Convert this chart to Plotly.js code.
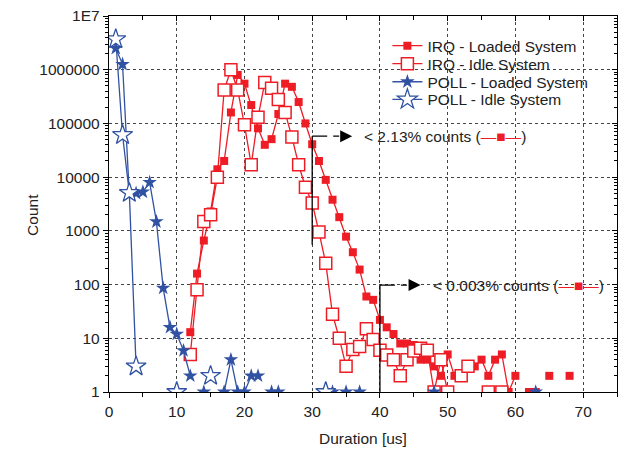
<!DOCTYPE html>
<html>
<head>
<meta charset="utf-8">
<script src="https://cdn.plot.ly/plotly-3.0.1.min.js"></script>
<style>html,body{margin:0;padding:0;background:#fff;}#chart{width:623px;height:451px;}</style>
</head>
<body>
<div id="chart"></div>
<script>
// ---- data (null = empty bin, line breaks) ----
const irqLoadedX = [12,13,14,15,16,17,18,19,20,21,22,23,24,25,26,27,28,29,30,31,32,33,34,35,36,37,38,39,40,41,42,43,44,45,46,47,48,49,50,51,52,53,54,55,56,57,58,59,60,61,62,63,64,65,66,67,68];
const irqLoadedY = [13,160,660,2300,14000,20000,160000,800000,550000,220000,81000,40000,51000,150000,550000,480000,250000,100000,41000,20000,8900,3800,1800,780,400,190,60,52,22,16,12,8,8,7.5,4,4,3,2,5,2,null,null,3,4,2,4,5,1,2,null,1,1,null,2,null,null,2];

const irqIdleX = [12,13,14,15,16,17,18,19,20,21,22,23,24,25,26,27,28,29,30,31,32,33,34,35,36,37,38,39,40,41,42,43,44,45,46,47,48,49,50,51,52,53,54,55,56,57,58];
const irqIdleY = [5,80,1500,2000,10000,420000,1000000,420000,94000,17000,130000,580000,450000,280000,160000,56000,17000,6500,3300,950,250,28,10,3,6.2,7,15,9.5,6,4.9,4,2,4,5.8,6.5,6,1,4,1,null,2,3,null,null,1,null,1];

const pollLoadedX = [1,2,3,4,5,6,7,8,9,10,11,12,13,14,15,16,17,18,19,20,21,22,23,24,25,26,32,33,34,35,36,37,38,47,48,49,62,63,64];
const pollLoadedY = [2500000,1260000,4800,5000,5300,8000,1480,86,16,12,5.9,2,null,1,null,null,1,4,1,1,2,2,null,1,1,null,null,1,null,1,null,1,null,null,1,null,null,1,null];

const pollIdleX = [1,2,3,4,5,9,10,11,14,15,16,31,32,33];
const pollIdleY = [3700000,61000,5100,3,null,null,1,null,null,2,null,null,1,null];

const xTickVals = [0,10,20,30,40,50,60,70];
const yTickVals = [1,10,100,1000,10000,100000,1000000,10000000];
const yTickText = ['1','10','100','1000','10000','100000','1000000','1E7'];

const seriesNames = ['IRQ - Loaded System','IRQ - Idle System','POLL - Loaded System','POLL - Idle System'];

// reference markers (cut-off annotations)
const cut1X = 30, cut1Top = 58000, cut1Bottom = 550, cut1Text = '< 2.13% counts (';
const cut2X = 40, cut2Top = 98, cut2Bottom = 1, cut2Text = '< 0.003% counts (';

const RED = '#ee1c25', BLUE = '#3152a3';
const FONT = 'Liberation Sans, Arial, Helvetica, sans-serif';
const TXT = '#222';

const traces = [
  {x: irqLoadedX, y: irqLoadedY, name: seriesNames[0], mode: 'lines+markers', legend: 'legend',
   line: {color: RED, width: 1.3}, marker: {symbol: 'square', size: 8, color: RED, line: {width: 0}}},
  {x: irqIdleX, y: irqIdleY, name: seriesNames[1], mode: 'lines+markers', legend: 'legend2',
   line: {color: RED, width: 1.3}, marker: {symbol: 'square', size: 12, color: '#ffffff', line: {color: RED, width: 1.5}}},
  {x: pollLoadedX, y: pollLoadedY, name: seriesNames[2], mode: 'lines+markers', legend: 'legend3',
   line: {color: BLUE, width: 1.3}, marker: {symbol: 'star', size: 11, color: BLUE, line: {width: 0}}},
  {x: pollIdleX, y: pollIdleY, name: seriesNames[3], mode: 'lines+markers', legend: 'legend4',
   line: {color: BLUE, width: 1.3}, marker: {symbol: 'star', size: 15, color: '#ffffff', line: {color: BLUE, width: 1.3}}},
  // cut-off guide lines
  {x: [cut1X, cut1X], y: [cut1Bottom, cut1Top], mode: 'lines', line: {color: '#000', width: 1.3}, showlegend: false, hoverinfo: 'skip'},
  {x: [cut1X, 34.6], y: [cut1Top, cut1Top], mode: 'lines', line: {color: '#000', width: 1.3, dash: '15px,6px,6px,20px'}, showlegend: false, hoverinfo: 'skip'},
  {x: [cut2X, cut2X], y: [cut2Bottom, cut2Top], mode: 'lines', line: {color: '#000', width: 1.3}, showlegend: false, hoverinfo: 'skip'},
  {x: [cut2X, 44.6], y: [cut2Top, cut2Top], mode: 'lines', line: {color: '#000', width: 1.3, dash: '15px,6px,6px,20px'}, showlegend: false, hoverinfo: 'skip'},
  // dummy trace for mirrored (inside-tick) top/right axes
  {x: [null], y: [null], xaxis: 'x2', yaxis: 'y2', showlegend: false, hoverinfo: 'skip', mode: 'markers'}
];

const sym = "<span style='color:" + RED + "'>—■—</span>)";

function leg(yPaper) {
  return {x: 0.548, y: yPaper, xanchor: 'left', yanchor: 'middle', bgcolor: 'rgba(0,0,0,0)', borderwidth: 0,
          font: {family: FONT, size: 15.5, color: TXT}};
}

const layout = {
  width: 623, height: 451,
  margin: {l: 109, r: 6, t: 16, b: 59},
  paper_bgcolor: '#fff', plot_bgcolor: '#fff',
  font: {family: FONT, size: 15, color: TXT},
  showlegend: true,
  legend: leg(0.920),
  legend2: leg(0.872),
  legend3: leg(0.824),
  legend4: leg(0.777),
  shapes: [
    {type: 'rect', xref: 'paper', yref: 'paper', x0: 0.535, x1: 0.966, y0: 0.753, y1: 0.944,
     fillcolor: '#fff', line: {width: 0}, layer: 'between'}
  ],
  xaxis: {range: [0, 75], tickmode: 'array', tickvals: xTickVals, ticks: 'outside', ticklen: 5, tickwidth: 1,
          tickcolor: '#000', showline: true, linecolor: '#000', linewidth: 1.2, zeroline: false,
          showgrid: true, gridcolor: '#444', griddash: 'dot', gridwidth: 1,
          minor: {dtick: 5, tick0: 0, ticks: 'outside', ticklen: 4, tickcolor: '#000', showgrid: false},
          title: {text: 'Duration [us]', font: {size: 15.5}, standoff: 14},
          tickfont: {size: 15.5}},
  yaxis: {type: 'log', range: [0, 7], tickmode: 'array', tickvals: yTickVals, ticktext: yTickText,
          ticks: 'outside', ticklen: 5, tickcolor: '#000', showline: true, linecolor: '#000', linewidth: 1.2,
          zeroline: false, showgrid: true, gridcolor: '#444', griddash: 'dot', gridwidth: 1,
          minor: {dtick: 'D1', ticks: 'outside', ticklen: 3, tickcolor: '#000', showgrid: false},
          tickfont: {size: 15.5}},
  xaxis2: {overlaying: 'x', side: 'top', anchor: 'y', range: [0, 75], tickmode: 'array', tickvals: xTickVals,
           ticks: 'inside', ticklen: 5, tickcolor: '#000', showticklabels: false, showline: true, linecolor: '#000',
           linewidth: 1.2, showgrid: false, zeroline: false,
           minor: {dtick: 5, tick0: 0, ticks: 'inside', ticklen: 4, tickcolor: '#000', showgrid: false}},
  yaxis2: {overlaying: 'y', side: 'right', anchor: 'x', type: 'log', range: [0, 7], tickmode: 'array', tickvals: yTickVals,
           ticks: 'inside', ticklen: 5, tickcolor: '#000', showticklabels: false, showline: true, linecolor: '#000',
           linewidth: 1.2, showgrid: false, zeroline: false,
           minor: {dtick: 'D1', ticks: 'inside', ticklen: 3, tickcolor: '#000', showgrid: false}},
  annotations: [
    {text: 'Count', xref: 'paper', yref: 'paper', x: -0.1496, y: 0.471, textangle: -90, showarrow: false,
     xanchor: 'center', yanchor: 'middle', font: {family: FONT, size: 15.5, color: TXT}},
    {x: 35.9, y: Math.log10(cut1Top), xref: 'x', yref: 'y', showarrow: true, ax: -9, ay: 0,
     arrowhead: 2, arrowsize: 2, arrowwidth: 1.2, arrowcolor: '#000', text: ''},
    {x: 37.4, y: Math.log10(cut1Top), xref: 'x', yref: 'y', xanchor: 'left', yanchor: 'middle', showarrow: false,
     text: cut1Text + sym, font: {family: FONT, size: 15.5, color: TXT}},
    {x: 46.0, y: Math.log10(cut2Top), xref: 'x', yref: 'y', showarrow: true, ax: -9, ay: 0,
     arrowhead: 2, arrowsize: 2, arrowwidth: 1.2, arrowcolor: '#000', text: ''},
    {x: 47.5, y: Math.log10(cut2Top), xref: 'x', yref: 'y', xanchor: 'left', yanchor: 'middle', showarrow: false,
     text: cut2Text + sym, font: {family: FONT, size: 15.5, color: TXT}}
  ]
};

Plotly.newPlot('chart', traces, layout, {staticPlot: true, displayModeBar: false});
</script>
</body>
</html>
